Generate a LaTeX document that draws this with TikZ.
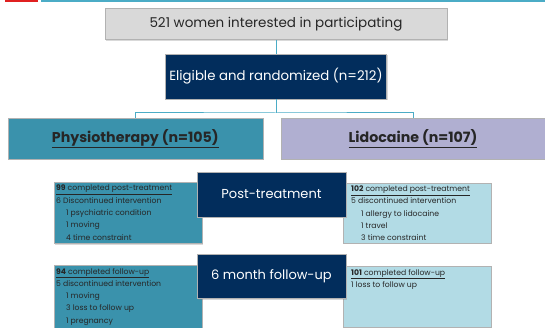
\documentclass[tikz,border=0pt]{standalone}
\usepackage{fontspec}
\setmainfont{Poppins}
\usetikzlibrary{shadows}
\definecolor{navy}{HTML}{022D5C}
\definecolor{armteal}{HTML}{3A92AC}
\definecolor{lavender}{HTML}{B0AFD1}
\definecolor{paleblue}{HTML}{B2DBE5}
\definecolor{linkblue}{HTML}{4BACC6}
\definecolor{greybox}{HTML}{D9D9D9}
\definecolor{slidered}{HTML}{E02020}

\begin{document}
\begin{tikzpicture}[x=1pt,y=-1pt,
	box/.style={ draw=black!30, line width=0.6pt, inner sep=0pt, drop shadow={shadow xshift=1pt,shadow yshift=-1.5pt,opacity=0.3} },
	navybox/.style={ box, fill=navy, text=white },
	armbox/.style={ box, minimum height=41pt, text=black!85, font=\fontsize{14.2}{16}\selectfont\bfseries },
	notebox/.style={ box, anchor=north west, minimum width=148pt },
	notetext/.style={ anchor=north west, align=left, inner sep=0pt, text=black!85, font=\fontsize{7.7}{12.3}\selectfont },
	link/.style={ linkblue, line width=1pt }
]
\useasboundingbox (0,0) rectangle (545,328);

% slide header
\fill[slidered] (5,0) rectangle (38,2.5);
\draw[linkblue, line width=1.2pt] (41,1) -- (545,1);

\node at (276,24) (screen) [box, fill=greybox, minimum width=342pt, minimum height=31pt, text=black!85, font=\fontsize{13.5}{16}\selectfont] {521 women interested in participating};
\node at (276,76.5) (rand) [navybox, minimum width=221pt, minimum height=45pt, font=\fontsize{13.3}{15}\selectfont] {Eligible and randomized (n=212)};

\node at (135.3,138.5) (physio) [armbox, fill=armteal, minimum width=255pt] {\underline{Physiotherapy (n=105)}};
\node at (413,138.5) (lido) [armbox, fill=lavender, minimum width=264pt] {\underline{Lidocaine (n=107)}};

\coordinate (fork) at (276,113);
\draw[link] (screen.south) -- (rand.north);
\draw[link] (rand.south) -- (fork);
\draw[link] (physio.north) |- (fork) -| (lido.north);

% notes at post-treatment
\node at (54,182) (postphysio) [notebox, fill=armteal, minimum height=61pt] {};
\node at ([shift={(2pt,-3pt)}]postphysio.north west) (postphysiotxt) [notetext] {\underline{\textbf{99} completed post-treatment}\\6 Discontinued intervention\\\hspace*{10pt}1 psychiatric condition\\\hspace*{10pt}1 moving\\\hspace*{10pt}4 time constraint};
\node at (343,182.7) (postlido) [notebox, fill=paleblue, minimum height=60pt] {};
\node at ([shift={(8pt,-3pt)}]postlido.north west) (postlidotxt) [notetext] {\underline{\textbf{102} completed post-treatment}\\5 discontinued intervention\\\hspace*{10pt}1 allergy to lidocaine\\\hspace*{10pt}1 travel\\\hspace*{10pt}3 time constraint};
\node at (271.5,194.5) (post) [navybox, minimum width=149pt, minimum height=45pt, font=\fontsize{13}{16}\selectfont] {Post-treatment};

% notes at follow-up
\node at (54,265) (followphysio) [notebox, fill=armteal, minimum height=66pt] {};
\node at ([shift={(2pt,-3pt)}]followphysio.north west) (followphysiotxt) [notetext] {\underline{\textbf{94} completed follow-up}\\5 discontinued intervention\\\hspace*{10pt}1 moving\\\hspace*{10pt}3 loss to follow up\\\hspace*{10pt}1 pregnancy};
\node at (343,266) (followlido) [notebox, fill=paleblue, minimum height=61pt] {};
\node at ([shift={(8pt,-3pt)}]followlido.north west) (followlidotxt) [notetext] {\underline{\textbf{101} completed follow-up}\\1 loss to follow up};
\node at (271.5,276) (follow) [navybox, minimum width=149pt, minimum height=44pt, font=\fontsize{13}{16}\selectfont] {6 month follow-up};

\end{tikzpicture}
\end{document}
